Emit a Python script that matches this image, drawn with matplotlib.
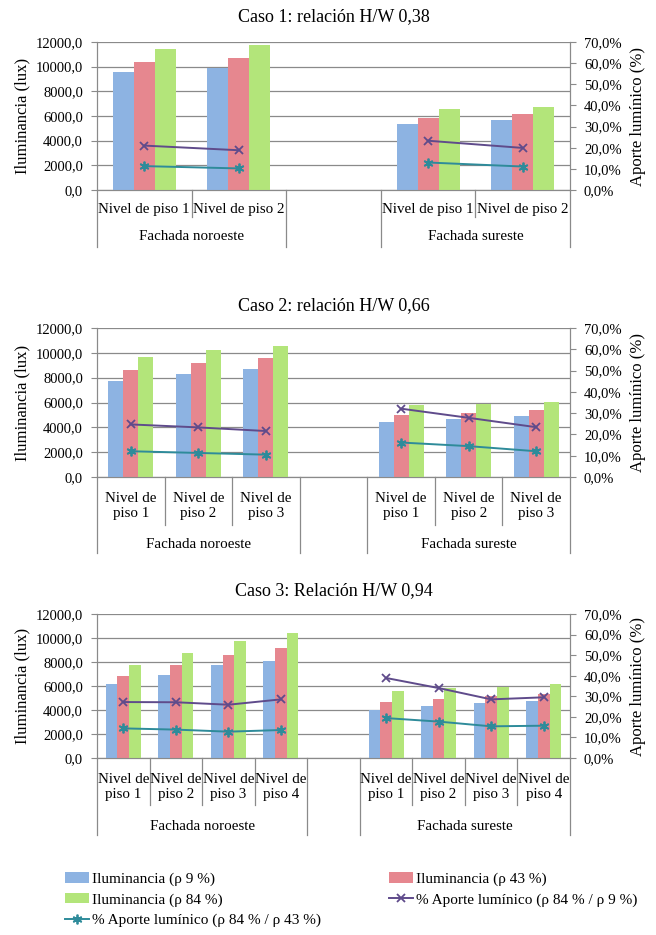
import matplotlib
matplotlib.use("Agg")
import matplotlib.pyplot as plt
import numpy as np
from matplotlib.ticker import FuncFormatter

plt.rcParams["font.family"] = ["Liberation Serif", "DejaVu Serif"]

# ---- data ----
titles = ["Caso 1: relación H/W 0,38", "Caso 2: relación H/W 0,66", "Caso 3: Relación H/W 0,94"]
groups = ["Fachada noroeste", "Fachada sureste"]

# illuminance (lux): noroeste floors, then sureste floors
ilu9_c1 = [9530, 9930, 5370, 5690]
ilu43_c1 = [10360, 10710, 5830, 6150]
ilu84_c1 = [11460, 11790, 6600, 6770]
ap9_c1 = [21.0, 18.8, 23.3, 19.9]
ap43_c1 = [11.3, 10.2, 13.0, 11.1]

ilu9_c2 = [7740, 8310, 8660, 4420, 4670, 4940]
ilu43_c2 = [8600, 9220, 9570, 5020, 5180, 5420]
ilu84_c2 = [9630, 10250, 10520, 5800, 5850, 6040]
ap9_c2 = [24.7, 23.3, 21.6, 32.1, 27.8, 23.4]
ap43_c2 = [12.1, 11.3, 10.5, 16.2, 14.5, 12.1]

ilu9_c3 = [6170, 6920, 7750, 8110, 4030, 4310, 4610, 4780]
ilu43_c3 = [6830, 7750, 8610, 9190, 4690, 4920, 5190, 5330]
ilu84_c3 = [7780, 8780, 9750, 10440, 5580, 5810, 5890, 6140]
ap9_c3 = [27.2, 27.1, 25.9, 28.5, 38.9, 34.0, 28.5, 29.5]
ap43_c3 = [14.4, 13.8, 12.8, 13.6, 19.4, 17.7, 15.4, 15.7]

cases = [
    (ilu9_c1, ilu43_c1, ilu84_c1, ap9_c1, ap43_c1),
    (ilu9_c2, ilu43_c2, ilu84_c2, ap9_c2, ap43_c2),
    (ilu9_c3, ilu43_c3, ilu84_c3, ap9_c3, ap43_c3),
]

labels = ["Iluminancia (ρ 9 %)", "Iluminancia (ρ 43 %)", "Iluminancia (ρ 84 %)",
          "% Aporte lumínico (ρ 84 % / ρ 9 %)", "% Aporte lumínico (ρ 84 % / ρ 43 %)"]

c_blue = "#8DB3E2"
c_red = "#E6878F"
c_green = "#B3E57A"
c_purple = "#5F4B8B"
c_teal = "#2E8B9A"
c_grid = "#8A8A8A"

W, H = 656, 935
fig = plt.figure(figsize=(W / 100, H / 100), dpi=100)

# panel layout in pixels: top, bottom, row1 text y, row1 sep end, group text y, group sep end, title y
layout = [
    (42, 190, 209, 217, 237, 247, 17),
    (328, 477, 506, 525, 545, 553, 306),
    (614, 758, 787, 805, 826, 835, 591),
]
x0, x1 = 97, 570
fs = 10.5

handles = None
for (top, bot, r1y, r1end, gy, gend, ty), title, data in zip(layout, titles, cases):
    ilu9, ilu43, ilu84, ap9, ap43 = data
    k = len(ilu9) // 2
    n = 2 * k + 1

    def with_gap(v):
        v = list(v)
        return np.array(v[:k] + [np.nan] + v[k:], dtype=float)

    ax = fig.add_axes([x0 / W, 1 - bot / H, (x1 - x0) / W, (bot - top) / H])
    ax2 = ax.twinx()

    x = np.arange(n)
    w = 1 / 4.5
    b1 = ax.bar(x - w, with_gap(ilu9), w, color=c_blue, zorder=3)
    b2 = ax.bar(x, with_gap(ilu43), w, color=c_red, zorder=3)
    b3 = ax.bar(x + w, with_gap(ilu84), w, color=c_green, zorder=3)
    l1, = ax2.plot(x, with_gap(ap9) / 100, color=c_purple, lw=1.4, marker="x",
                   ms=6, mew=1.3)
    l2, = ax2.plot(x, with_gap(ap43) / 100, color=c_teal, lw=1.4, marker=(6, 2, 0),
                   ms=7, mew=1.3)
    handles = [b1, b2, b3, l1, l2]

    ax.set_xlim(-0.5, n - 0.5)
    ax.set_ylim(0, 12000)
    ax.set_yticks(np.arange(0, 12001, 2000))
    ax.yaxis.set_major_formatter(FuncFormatter(lambda v, p: f"{v:.1f}".replace(".", ",")))
    ax2.set_ylim(0, 0.7)
    ax2.set_yticks(np.arange(0, 0.71, 0.1))
    ax2.yaxis.set_major_formatter(FuncFormatter(lambda v, p: f"{v * 100:.1f}%".replace(".", ",")))

    ax.yaxis.grid(True, color=c_grid, lw=0.9, zorder=0)
    ax.set_axisbelow(True)
    ax.set_xticks([])
    for a in (ax, ax2):
        a.spines["top"].set_visible(False)
        for s in ("left", "right", "bottom"):
            a.spines[s].set_color(c_grid)
        a.tick_params(axis="y", length=4, color=c_grid, labelsize=fs, pad=6)
    ax.set_ylabel("Iluminancia (lux)", fontsize=12, labelpad=4)
    ax2.set_ylabel("Aporte lumínico (%)", fontsize=12, labelpad=6)

    axh = bot - top
    tr = ax.get_xaxis_transform()
    def fy(py):
        return -(py - bot) / axh

    # category separators
    for i in range(n + 1):
        b = i - 0.5
        if i in (0, k, k + 1, n):
            end = gend
        else:
            end = r1end
        ax.plot([b, b], [0, fy(end)], color=c_grid, lw=0.9, transform=tr, clip_on=False)

    floor_lab = "Nivel de piso {}" if k == 2 else "Nivel de\npiso {}"
    for j in range(k):
        for xi in (j, k + 1 + j):
            ax.text(xi, fy(r1y), floor_lab.format(j + 1), transform=tr, ha="center",
                    va="center", fontsize=fs + 0.3, linespacing=1.15)
    ax.text((k - 1) / 2, fy(gy), groups[0], transform=tr, ha="center", va="center",
            fontsize=fs + 0.3)
    ax.text(k + 1 + (k - 1) / 2, fy(gy), groups[1], transform=tr, ha="center", va="center",
            fontsize=fs + 0.3)

    fig.text((x0 + x1) / 2 / W, 1 - ty / H, title, ha="center", va="center", fontsize=13)

# legend laid out in two columns like the reference
leg_kw = dict(frameon=False, fontsize=11, handlelength=1.6, handletextpad=0.2,
              labelspacing=0.45, borderpad=0, borderaxespad=0, loc="upper left")
fig.legend([handles[0], handles[2], handles[4]], [labels[0], labels[2], labels[4]],
           bbox_to_anchor=(65 / W, 1 - 872 / H), **leg_kw)
fig.legend([handles[1], handles[3]], [labels[1], labels[3]],
           bbox_to_anchor=(389 / W, 1 - 872 / H), **leg_kw)

fig.savefig("out.png", dpi=100)
